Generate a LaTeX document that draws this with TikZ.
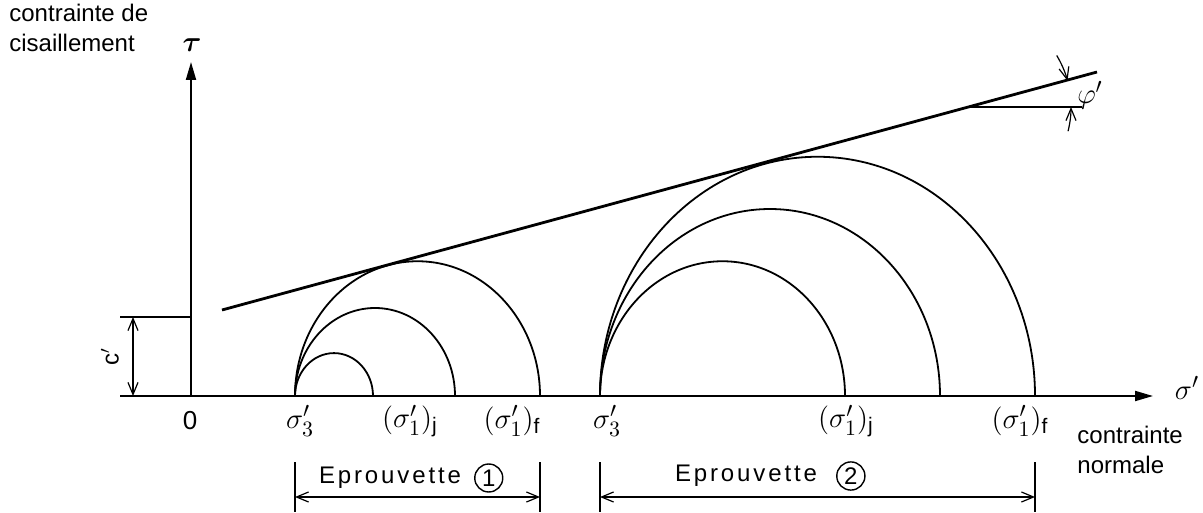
\documentclass[tikz,border=0pt]{standalone}
\usepackage{fontspec}
\usepackage{amsmath}
\setmainfont{Liberation Sans}
\newfontfamily\platefont[LetterSpace=12]{Liberation Sans}
\usetikzlibrary{arrows.meta,positioning}

\begin{document}
\begin{tikzpicture}[x=0.5pt, y=-0.5pt,
    axis/.style={line width=1pt, -{Triangle[length=9pt,width=5pt]}},
    mohr/.style={line width=0.9pt},
    dim/.style={line width=0.6pt, {Straight Barb[length=6pt,width=5pt]}-{Straight Barb[length=6pt,width=5pt]}},
    lbl/.style={font=\fontsize{15}{17}\selectfont, inner sep=1pt},
    txt/.style={font=\fontsize{12}{15}\selectfont, align=left, inner sep=0pt},
    numc/.style={draw, circle, line width=0.7pt, inner sep=1.2pt, font=\platefont\fontsize{12}{14}\selectfont},
]
\useasboundingbox (0,0) rectangle (1203,513);
% axes
\coordinate (sl) at (120,396);
\coordinate (sr) at (1153,396);
\coordinate (tb) at (191,396);
\coordinate (tt) at (191,62);
\draw[axis] (sl) -- (sr);
\draw[axis] (tb) -- (tt);
\node[lbl] (tau) at (192,45) {$\boldsymbol{\tau}$};
\node[lbl] (sig) at (1187,388) {$\sigma'$};
\node[lbl, font=\fontsize{13}{15}\selectfont] (zero) at (190,421) {0};
\node[txt, anchor=north west] (tlab) at (9,4) {contrainte de\\cisaillement};
\node[txt, anchor=west] (slab) at (1077,450) {contrainte\\normale};
% cohesion
\coordinate (ca) at (120,317);
\coordinate (cb) at (191,317);
\draw[line width=0.7pt] (ca) -- (cb);
\coordinate (cu) at (133,317);
\coordinate (cd) at (133,396);
\draw[dim] (cu) -- (cd);
\node[lbl, font=\fontsize{12}{14}\selectfont, rotate=90] (cl) at (110,357) {c$'$};
% Mohr circles
\foreach \l/\r in {295/373, 295/455, 295/540, 600/845, 600/940, 600/1035} {
  \draw[mohr] (\l,396) arc[start angle=180, end angle=0,
     x radius={(\r-\l)*0.25pt}, y radius={(\r-\l)*0.275pt}];
}
% envelope
\coordinate (ea) at (222,310);
\coordinate (eb) at (1097,72);
\draw[line width=1.4pt] (ea) -- (eb);
% friction angle
\coordinate (v) at (971,107);
\coordinate (h) at (1082,107);
\draw[line width=0.7pt] (v) -- (h);
\draw[line width=0.6pt, -{Straight Barb[length=6pt,width=5pt]}] ([shift={(31:50pt)}]v) arc[start angle=31, end angle=15.2, radius=50pt];
\draw[line width=0.6pt, -{Straight Barb[length=6pt,width=5pt]}] ([shift={(-14:50pt)}]v) arc[start angle=-14, end angle=0, radius=50pt];
\node[lbl] (phi) at (1090,95) {$\varphi'$};
% labels on the sigma axis
\foreach \x/\t/\n in {300/{\sigma'_3}/a3, 410/{(\sigma'_1)_{\mathrm{j}}}/aj, 512/{(\sigma'_1)_{\mathrm{f}}}/af,
                      607/{\sigma'_3}/b3, 846/{(\sigma'_1)_{\mathrm{j}}}/bj, 1020/{(\sigma'_1)_{\mathrm{f}}}/bf} {
  \node[lbl] (\n) at (\x,421) {$\t$};
}
% specimens
\foreach \a/\b/\k in {295/540/1, 600/1035/2} {
  \coordinate (pa\k) at (\a,462);
  \coordinate (qa\k) at (\a,512);
  \coordinate (pb\k) at (\b,462);
  \coordinate (qb\k) at (\b,512);
  \draw[line width=0.6pt] (pa\k) -- (qa\k);
  \draw[line width=0.6pt] (pb\k) -- (qb\k);
  \coordinate (da\k) at (\a,497);
  \coordinate (db\k) at (\b,497);
  \draw[dim] (da\k) -- (db\k);
}
\node[font=\platefont\fontsize{12}{14}\selectfont] (ep1) at (390,478) {Eprouvette};
\node[numc, right=3pt of ep1] (n1) {1};
\node[font=\platefont\fontsize{12}{14}\selectfont] (ep2) at (746,476) {Eprouvette};
\node[numc, right=6pt of ep2] (n2) {2};
\end{tikzpicture}
\end{document}
